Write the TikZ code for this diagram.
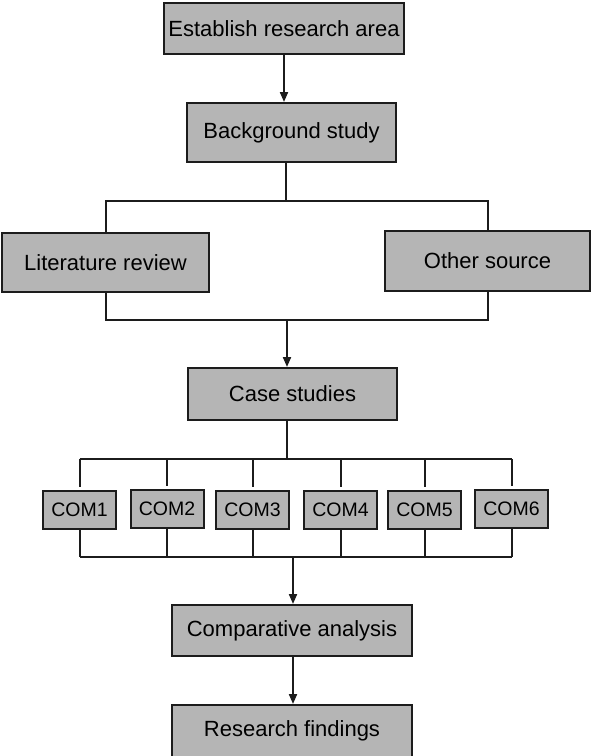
\documentclass[tikz,border=0pt]{standalone}
\usepackage{fontspec}
\setmainfont{Liberation Sans}
\usetikzlibrary{arrows.meta, positioning}
\definecolor{boxgray}{RGB}{181,181,181}
\definecolor{linegray}{RGB}{28,28,28}

\begin{document}
\begin{tikzpicture}[
    x=1pt, y=-1pt,
    every node/.style={font=\fontsize{22}{26}\selectfont},
    stage/.style={draw=linegray, fill=boxgray, line width=2pt, inner sep=0pt, align=center},
    comp/.style={stage, minimum width=73pt, minimum height=38pt, font=\fontsize{19.5}{23}\selectfont},
    link/.style={draw=linegray, line width=2pt},
    tap/.style={link, shorten >=3pt},
    flow/.style={link, -{Triangle[length=10pt, width=8pt]}}
]
    \useasboundingbox (0,0) rectangle (591,756);

    \node[stage, minimum width=240pt, minimum height=51pt] (est) at (284,28.5) {Establish research area};
    \node[stage, minimum width=209pt, minimum height=59pt] (bg) at (291.5,132.5) {Background study};
    \node[stage, minimum width=207pt, minimum height=59pt] (lit) at (105.5,262.5) {Literature review};
    \node[stage, minimum width=205pt, minimum height=60pt] (oth) at (487.5,261) {Other source};
    \node[stage, minimum width=209pt, minimum height=52pt] (case) at (292.5,394) {Case studies};

    \node[comp] (c1) at (79.5,510) {COM1};
    \node[comp] (c2) at (167,509) {COM2};
    \node[comp] (c3) at (252.5,510) {COM3};
    \node[comp] (c4) at (340.5,510) {COM4};
    \node[comp] (c5) at (424.5,510) {COM5};
    \node[comp] (c6) at (511.5,509) {COM6};

    \node[stage, minimum width=240pt, minimum height=51pt] (ana) at (292,630.5) {Comparative analysis};
    \node[stage, minimum width=240pt, minimum height=52pt] (res) at (292,731) {Research findings};

    \coordinate (s1) at (286,201);
    \coordinate (m1) at (287,320);
    \coordinate (s2) at (287,459);
    \coordinate (m2) at (293,557);

    \draw[flow] (est.south) -- (est.south |- bg.north);
    \draw[link] (bg.south -| s1) -- (s1);
    \draw[link] (lit.north) |- (s1) -| (oth.north);
    \draw[link] (lit.south) |- (m1) -| (oth.south);
    \draw[flow] (m1) -- (case.north -| m1);

    \draw[link] (case.south -| s2) -- (s2);
    \draw[link] (c1.north |- s2) -- (c6.north |- s2);
    \draw[tap] (c1.north |- s2) -- (c1.north);
    \draw[tap] (c2.north |- s2) -- (c2.north);
    \draw[tap] (c3.north |- s2) -- (c3.north);
    \draw[tap] (c4.north |- s2) -- (c4.north);
    \draw[tap] (c5.north |- s2) -- (c5.north);
    \draw[tap] (c6.north |- s2) -- (c6.north);

    \draw[link] (c1.south) -- (c1.south |- m2);
    \draw[link] (c2.south) -- (c2.south |- m2);
    \draw[link] (c3.south) -- (c3.south |- m2);
    \draw[link] (c4.south) -- (c4.south |- m2);
    \draw[link] (c5.south) -- (c5.south |- m2);
    \draw[link] (c6.south) -- (c6.south |- m2);
    \draw[link] (c1.south |- m2) -- (c6.south |- m2);

    \draw[flow] (m2) -- (ana.north -| m2);
    \draw[flow] (ana.south -| m2) -- (res.north -| m2);
\end{tikzpicture}
\end{document}
